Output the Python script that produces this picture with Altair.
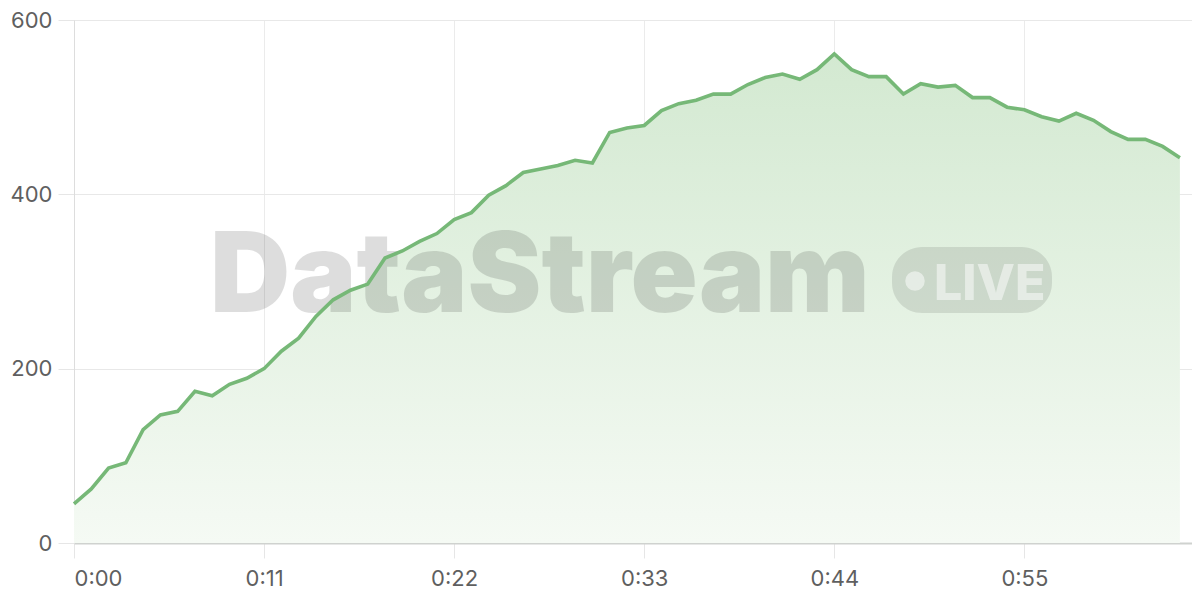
import altair as alt
import pandas as pd

seconds = list(range(65))
values = [45, 62, 86, 92, 130, 147, 151, 174, 169, 182,
          189, 200, 220, 235, 260, 279, 290, 297, 327, 335,
          346, 355, 371, 379, 399, 410, 425, 429, 433, 439,
          436, 471, 476, 479, 496, 504, 508, 515, 515, 526,
          534, 538, 532, 543, 561, 543, 535, 535, 515, 527,
          523, 525, 511, 511, 500, 497, 489, 484, 493, 485,
          472, 463, 463, 455, 442]
x_ticks = [0, 11, 22, 33, 44, 55]
y_ticks = [0, 200, 400, 600]
brand = "DataStream"
badge = "LIVE"

df = pd.DataFrame({"t": seconds, "v": values})
one = pd.DataFrame({"k": [0]})

FONT = "Inter"
LINE = "#76b877"

x_enc = alt.X(
    "t:Q",
    scale=alt.Scale(domain=[0, 64.7], nice=False, zero=False),
    axis=alt.Axis(
        values=x_ticks,
        labelExpr="floor(datum.value/60) + ':' + (datum.value % 60 < 10 ? '0' : '') + (datum.value % 60)",
        title=None,
        grid=True,
        gridColor="#ebebeb",
        domainColor="#cfd2cf",
        domainWidth=2,
        tickColor="#e6e6e6",
        tickSize=15,
        labelPadding=10,
        labelFont=FONT,
        labelFontSize=22,
        labelColor="#5f5f5f",
    ),
)
y_enc = alt.Y(
    "v:Q",
    scale=alt.Scale(domain=[0, 600], nice=False),
    axis=alt.Axis(
        values=y_ticks,
        title=None,
        grid=True,
        gridColor="#e8e8e8",
        domainColor="#dddddd",
        tickColor="#e6e6e6",
        tickSize=16,
        labelPadding=6,
        labelFont=FONT,
        labelFontSize=22,
        labelColor="#5f5f5f",
    ),
)

base = alt.Chart(df)

area = base.mark_area(
    color=alt.Gradient(
        gradient="linear",
        stops=[alt.GradientStop(color="#f5faf4", offset=0),
               alt.GradientStop(color="#d3e9d1", offset=1)],
        x1=1, x2=1, y1=1, y2=0,
    )
).encode(x=x_enc, y=y_enc)

line = base.mark_line(color=LINE, strokeWidth=3.6).encode(x="t:Q", y="v:Q")

pill = alt.Chart(one).mark_rect(color="black", opacity=0.1, cornerRadius=30).encode(
    x=alt.value(818), x2=alt.value(978), y=alt.value(227), y2=alt.value(293)
)
dot = alt.Chart(one).mark_circle(color="white", opacity=0.5, size=380).encode(
    x=alt.value(841), y=alt.value(261)
)
live = alt.Chart(one).mark_text(
    text=badge, font="Inter", fontWeight=800, fontSize=50,
    color="white", opacity=0.5, align="left", baseline="alphabetic"
).encode(x=alt.value(860), y=alt.value(280))
word = alt.Chart(one).mark_text(
    text=brand, font="Inter", fontWeight=900, fontSize=111,
    color="black", opacity=0.13, align="left", baseline="alphabetic"
).encode(x=alt.value(136), y=alt.value(292))

chart = alt.layer(area, pill, dot, live, word, line).properties(
    width=1118, height=523,
    autosize=alt.AutoSizeParams(type="none"),
    padding={"left": 66, "top": 12, "right": 0, "bottom": 48},
).configure_view(stroke=None).configure(background="white")

chart.save("out.html", embed_options={"renderer": "svg", "actions": False})
